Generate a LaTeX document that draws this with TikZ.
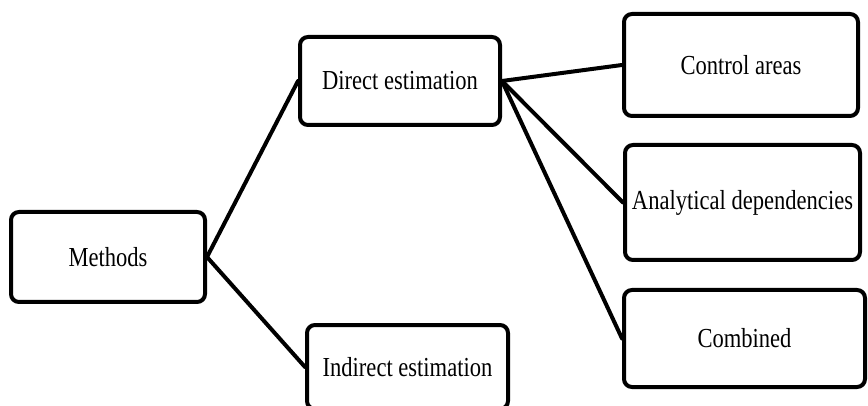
\documentclass[tikz,border=0pt]{standalone}
\usepackage{graphicx}
\usepackage{fontspec}
\setmainfont{Liberation Serif}
\newcommand\boxtext[1]{\scalebox{0.82}[1]{\fontsize{27.5}{30}\selectfont #1}}
\begin{document}
\begin{tikzpicture}[x=1pt,y=-1pt,
  box/.style={draw, line width=4pt, rounded corners=8pt, inner sep=0pt, fill=white},
  conn/.style={line width=4pt, line cap=round}]
\useasboundingbox (0,0) rectangle (868,406);
\clip (0,0) rectangle (868,406);
\node[box, minimum width=194pt, minimum height=90pt] (m) at (108,257) {\boxtext{Methods}};
\node[box, minimum width=200pt, minimum height=88pt] (d) at (400,81) {\boxtext{Direct estimation}};
\node[box, minimum width=201pt, minimum height=84pt] (i) at (407.5,367) {\boxtext{Indirect estimation}};
\node[box, minimum width=234pt, minimum height=102pt] (c) at (741,65) {\boxtext{Control areas}};
\node[box, minimum width=235pt, minimum height=115pt] (a) at (742.5,202.5) {\boxtext{Analytical dependencies}};
\node[box, minimum width=241pt, minimum height=97pt] (cb) at (744.5,338.5) {\boxtext{Combined}};
\draw[conn] (m.east) -- (d.west);
\draw[conn] (m.east) -- (i.west);
\draw[conn] (d.east) -- (c.west);
\draw[conn] (d.east) -- (a.west);
\draw[conn] (d.east) -- (cb.west);
\end{tikzpicture}
\end{document}
